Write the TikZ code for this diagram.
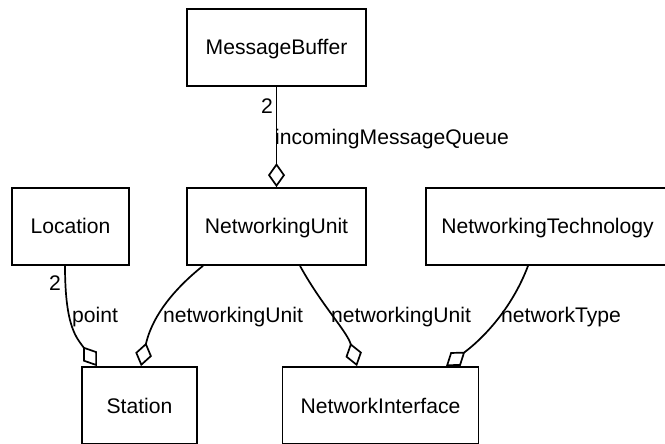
\documentclass[tikz,border=0pt]{standalone}
\usepackage{fontspec}
\setmainfont{Liberation Sans}
\usetikzlibrary{arrows.meta}
\begin{document}
\begin{tikzpicture}[x=1bp,y=-1bp,
  cls/.style={draw, line width=1.7bp, minimum height=77bp, inner sep=0pt, text height=15bp, text depth=0bp, font=\fontsize{21.2}{25}\selectfont},
  lbl/.style={inner sep=0pt, font=\fontsize{21.2}{25}\selectfont},
  assoc/.style={line width=1.7bp, -{Diamond[open,length=24bp,width=17bp]}}]
\useasboundingbox (0,0) rectangle (665,444);
\clip (0,0) rectangle (665,444);
\node[cls, minimum width=179bp] (mb) at (276.5,47.5) {MessageBuffer};
\node[cls, minimum width=179bp] (nu) at (276.5,226.5) {NetworkingUnit};
\node[cls, minimum width=117bp] (loc) at (70.5,226.5) {Location};
\node[cls, minimum width=243bp] (nt) at (547.5,226.5) {NetworkingTechnology};
\node[cls, minimum width=115bp] (st) at (139.5,405.5) {Station};
\node[cls, minimum width=196bp] (ni) at (380.5,405.5) {NetworkInterface};

\draw[assoc] (mb.south) -- (nu.north);
\draw[assoc] ([xshift=-5.5bp]loc.south) .. controls +(0,62) and +(-20,-28) .. ([xshift=-42.5bp]st.north);
\draw[assoc] ([xshift=-73.5bp]nu.south) .. controls +(-35,28) and +(10,-45) .. ([xshift=1.5bp]st.north);
\draw[assoc] ([xshift=23.5bp]nu.south) .. controls +(22,40) and +(-10,-35) .. ([xshift=-23.5bp]ni.north);
\draw[assoc] ([xshift=-19.5bp]nt.south) .. controls +(-15,40) and +(40,-30) .. ([xshift=65.5bp]ni.north);

\node[lbl, anchor=base east] (m1) at (273,114) {2};
\node[lbl, anchor=base west] (r1) at (275,145) {incomingMessageQueue};
\node[lbl, anchor=base east] (m2) at (61,291) {2};
\node[lbl, anchor=base west] (r2) at (72,323) {point};
\node[lbl, anchor=base west] (r3) at (163,323) {networkingUnit};
\node[lbl, anchor=base west] (r4) at (331,323) {networkingUnit};
\node[lbl, anchor=base west] (r5) at (501,323) {networkType};
\end{tikzpicture}
\end{document}
